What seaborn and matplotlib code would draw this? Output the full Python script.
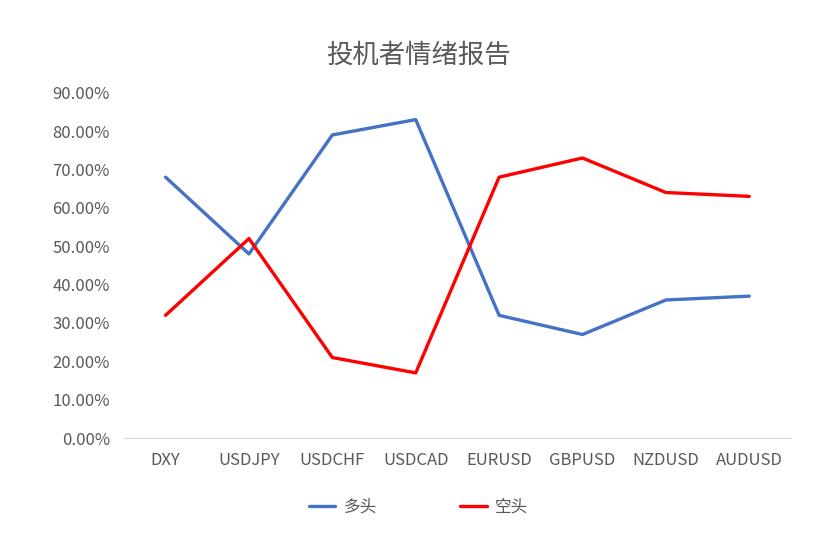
import pandas as pd
import matplotlib.pyplot as plt
import seaborn as sns
from matplotlib.ticker import PercentFormatter

# Data
pairs = ["DXY", "USDJPY", "USDCHF", "USDCAD", "EURUSD", "GBPUSD", "NZDUSD", "AUDUSD"]
long_pct = [0.68, 0.48, 0.79, 0.83, 0.32, 0.27, 0.36, 0.37]
short_pct = [0.32, 0.52, 0.21, 0.17, 0.68, 0.73, 0.64, 0.63]

df = pd.concat([
    pd.DataFrame({"pair": pairs, "value": long_pct, "side": "多头"}),
    pd.DataFrame({"pair": pairs, "value": short_pct, "side": "空头"}),
])
df["x"] = df["pair"].map({p: i for i, p in enumerate(pairs)})

sns.set_style("white")
plt.rcParams['font.family'] = ['Noto Sans CJK SC', 'DejaVu Sans']

fig = plt.figure(figsize=(8.37, 5.33), dpi=100)
ax = fig.add_axes([0.148, 0.178, 0.797, 0.648])

sns.lineplot(data=df, x="x", y="value", hue="side",
             palette={"多头": "#4472C4", "空头": "#FF0000"},
             linewidth=2.4, ax=ax, sort=False)

ax.set_xlim(-0.5, len(pairs) - 0.5)
ax.set_ylim(0, 0.9)
ax.set_xticks(range(len(pairs)))
ax.set_xticklabels(pairs)
ax.set_yticks([i / 10 for i in range(10)])
ax.yaxis.set_major_formatter(PercentFormatter(1.0, decimals=2))
ax.tick_params(axis="both", labelsize=12, labelcolor="#595959", length=0, pad=10)
ax.set_xlabel("")
ax.set_ylabel("")

for side in ["top", "right", "left"]:
    ax.spines[side].set_visible(False)
ax.spines["bottom"].set_color("#D9D9D9")

fig.suptitle("投机者情绪报告", y=0.922, fontsize=19, color="#595959")

# legend centred on the figure, below the axis
handles, labels = ax.get_legend_handles_labels()
ax.get_legend().remove()
leg = fig.legend(handles, labels, loc="center", bbox_to_anchor=(0.5, 0.049), ncol=2,
                 frameon=False, fontsize=12, handlelength=1.6, handletextpad=0.5,
                 columnspacing=5.0)
for t in leg.get_texts():
    t.set_color("#595959")

fig.savefig("out.png", dpi=100)
